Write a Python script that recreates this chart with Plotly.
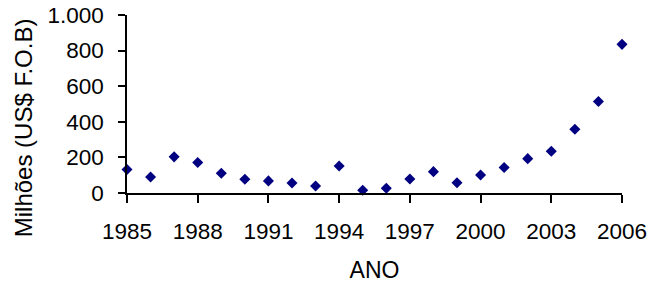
import plotly.graph_objects as go

anos = list(range(1985, 2007))
valores = [132, 90, 203, 171, 111, 77, 68, 56, 39, 152, 15, 27,
           79, 120, 58, 101, 143, 193, 235, 358, 514, 835]

y_ticks = [0, 200, 400, 600, 800, 1000]
y_tick_labels = ["0", "200", "400", "600", "800", "1.000"]
x_ticks = [1985, 1988, 1991, 1994, 1997, 2000, 2003, 2006]
x_tick_labels = [str(v) for v in x_ticks]

FONT = "Liberation Sans, Arial, sans-serif"

fig = go.Figure()
fig.add_trace(go.Scatter(
    x=anos, y=valores, mode="markers",
    marker=dict(symbol="diamond", size=8.5, color="#000080"),
    cliponaxis=False, showlegend=False,
))

fig.update_layout(
    width=649, height=283,
    margin=dict(l=127, r=27, t=15, b=90, autoexpand=False),
    paper_bgcolor="white", plot_bgcolor="white",
    font=dict(family=FONT, size=22.5, color="black"),
)

fig.update_xaxes(
    range=[1985, 2006], tickvals=x_ticks, ticktext=x_tick_labels,
    showgrid=False, zeroline=False, automargin=False,
    showline=True, linecolor="black", linewidth=1.5,
    ticks="outside", ticklen=8, tickwidth=1.5, tickcolor="black",
    ticklabelstandoff=9, ticklabeloverflow="allow",
    title=dict(text="ANO", standoff=21, font=dict(size=23)),
)
fig.update_yaxes(
    range=[0, 1000], tickvals=y_ticks, ticktext=y_tick_labels,
    showgrid=False, zeroline=False, automargin=False,
    showline=True, linecolor="black", linewidth=1.5,
    ticks="outside", ticklen=7, tickwidth=1.5, tickcolor="black",
    ticklabelstandoff=10, ticklabeloverflow="allow",
)

fig.add_annotation(
    text="Milhões (US$ F.O.B)", textangle=-90,
    xref="paper", yref="paper", x=-0.21, y=0.364,
    xanchor="center", yanchor="middle", showarrow=False,
    font=dict(family=FONT, size=24, color="black"),
)

fig.write_html(
    "out.html",
    config={"displayModeBar": False},
    post_script="document.body.style.margin='0';document.body.style.overflow='hidden';",
)
